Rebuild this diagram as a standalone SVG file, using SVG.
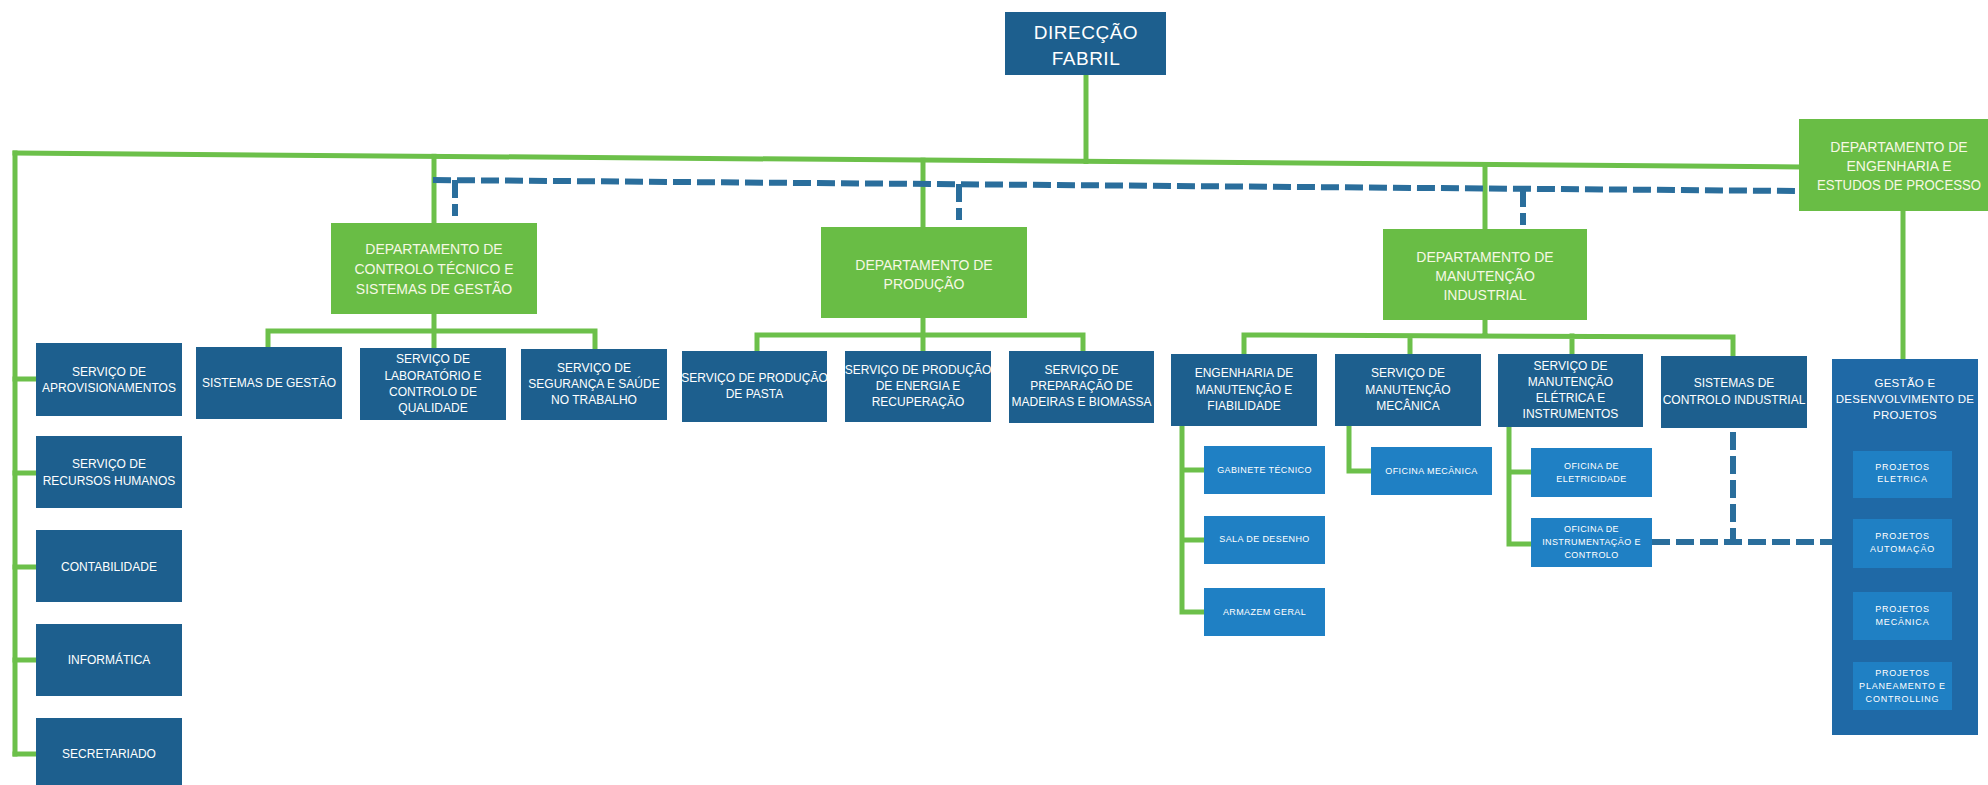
<svg xmlns="http://www.w3.org/2000/svg" width="1988" height="785" viewBox="0 0 1988 785">
<style>
.bg{fill:#ffffff}
.dk{fill:#1d5f8e}
.gr{fill:#69bd45}
.lt{fill:#1f80c4}
.big{fill:#1f69a6}
.ln{stroke:#6cc04a;stroke-width:5;fill:none;stroke-linecap:square;stroke-linejoin:miter}
.ds{stroke:#2a6e9c;stroke-width:6;fill:none;stroke-dasharray:18 6}
text{font-family:"Liberation Sans",Arial,sans-serif;text-anchor:middle;fill:#ffffff}
.t12{font-size:12px}
.t14{font-size:14px;fill:#f6f8e4}
.t19{font-size:19px;letter-spacing:0.5px}
.t9{font-size:9px;letter-spacing:0.4px}
.t9p{font-size:9px;letter-spacing:0.8px}
.t11{font-size:11.5px;letter-spacing:0.3px}
</style>
<rect class="bg" x="0" y="0" width="1988" height="785"/>

<g id="connectors">
  <g id="green-lines">
    <path class="ln" d="M1086,75 L1086,161.5"/>
    <path class="ln" d="M15,153 L1799,167"/>
    <path class="ln" d="M15,153 L15,754"/>
    <path class="ln" d="M15,379 L36,379 M15,473 L36,473 M15,567 L36,567 M15,660 L36,660 M15,754 L36,754"/>
    <path class="ln" d="M434,156.3 L434,223"/>
    <path class="ln" d="M923,160.2 L923,227"/>
    <path class="ln" d="M1485,164.7 L1485,229"/>
    <path class="ln" d="M434,313 L434,348 M268,347 L268,331 L595,331 L595,349"/>
    <path class="ln" d="M923,318 L923,351 M757,351 L757,335 L1083,335 L1083,351"/>
    <path class="ln" d="M1485,320 L1485,335 M1244,354 L1244,335 L1733,337 L1733,356 M1410,336 L1410,354 M1572,336 L1572,354"/>
    <path class="ln" d="M1903,211 L1903,359"/>
    <path class="ln" d="M1182,426 L1182,612 M1182,470 L1204,470 M1182,540 L1204,540 M1182,612 L1204,612"/>
    <path class="ln" d="M1349,426 L1349,471 L1371,471"/>
    <path class="ln" d="M1509,427 L1509,544 L1531,544 M1509,472 L1531,472"/>
  </g>
  <g id="dashed-lines">
    <path class="ds" d="M433,180 L1799,191"/>
    <path class="ds" d="M455,180 L455,216"/>
    <path class="ds" d="M959,184 L959,220"/>
    <path class="ds" d="M1523,189 L1523,225"/>
    <path class="ds" d="M1733,432 L1733,542"/>
    <path class="ds" d="M1652,542 L1832,542"/>
  </g>
</g>

<g id="direccao-fabril">
  <rect class="dk" x="1005" y="12" width="161" height="63"/>
  <text class="t19" x="1086" y="38.8">DIRECÇÃO</text>
  <text class="t19" x="1086" y="64.8">FABRIL</text>
</g>

<g id="dep-controlo">
  <rect class="gr" x="331" y="223" width="206" height="91"/>
  <text class="t14" x="434" y="254">DEPARTAMENTO DE</text>
  <text class="t14" x="434" y="274">CONTROLO TÉCNICO E</text>
  <text class="t14" x="434" y="294">SISTEMAS DE GESTÃO</text>
</g>
<g id="dep-producao">
  <rect class="gr" x="821" y="227" width="206" height="91"/>
  <text class="t14" x="924" y="270">DEPARTAMENTO DE</text>
  <text class="t14" x="924" y="289">PRODUÇÃO</text>
</g>
<g id="dep-manutencao">
  <rect class="gr" x="1383" y="229" width="204" height="91"/>
  <text class="t14" x="1485" y="262">DEPARTAMENTO DE</text>
  <text class="t14" x="1485" y="281">MANUTENÇÃO</text>
  <text class="t14" x="1485" y="300">INDUSTRIAL</text>
</g>
<g id="dep-engenharia">
  <rect class="gr" x="1799" y="119" width="205" height="92"/>
  <text class="t14" x="1899" y="152">DEPARTAMENTO DE</text>
  <text class="t14" x="1899" y="171">ENGENHARIA E</text>
  <text class="t14" x="1899" y="190" textLength="164" lengthAdjust="spacingAndGlyphs">ESTUDOS DE PROCESSO</text>
</g>

<g id="aprovisionamentos">
  <rect class="dk" x="36" y="343" width="146" height="73"/>
  <text class="t12" x="109" y="376.3">SERVIÇO DE</text>
  <text class="t12" x="109" y="392.3">APROVISIONAMENTOS</text>
</g>
<g id="recursos-humanos">
  <rect class="dk" x="36" y="436" width="146" height="72"/>
  <text class="t12" x="109" y="468.3">SERVIÇO DE</text>
  <text class="t12" x="109" y="485.3">RECURSOS HUMANOS</text>
</g>
<g id="contabilidade">
  <rect class="dk" x="36" y="530" width="146" height="72"/>
  <text class="t12" x="109" y="571.3">CONTABILIDADE</text>
</g>
<g id="informatica">
  <rect class="dk" x="36" y="624" width="146" height="72"/>
  <text class="t12" x="109" y="664.3">INFORMÁTICA</text>
</g>
<g id="secretariado">
  <rect class="dk" x="36" y="718" width="146" height="72"/>
  <text class="t12" x="109" y="758.3">SECRETARIADO</text>
</g>

<g id="sistemas-gestao">
  <rect class="dk" x="196" y="347" width="146" height="72"/>
  <text class="t12" x="269" y="387.3">SISTEMAS DE GESTÃO</text>
</g>
<g id="laboratorio">
  <rect class="dk" x="360" y="348" width="146" height="72"/>
  <text class="t12" x="433" y="363.3">SERVIÇO DE</text>
  <text class="t12" x="433" y="380.3">LABORATÓRIO E</text>
  <text class="t12" x="433" y="396.3">CONTROLO DE</text>
  <text class="t12" x="433" y="412.3">QUALIDADE</text>
</g>
<g id="seguranca">
  <rect class="dk" x="521" y="349" width="146" height="71"/>
  <text class="t12" x="594" y="372.3">SERVIÇO DE</text>
  <text class="t12" x="594" y="388.3">SEGURANÇA E SAÚDE</text>
  <text class="t12" x="594" y="404.3">NO TRABALHO</text>
</g>
<g id="producao-pasta">
  <rect class="dk" x="682" y="351" width="145" height="71"/>
  <text class="t12" x="754.5" y="382.3">SERVIÇO DE PRODUÇÃO</text>
  <text class="t12" x="754.5" y="398.3">DE PASTA</text>
</g>
<g id="producao-energia">
  <rect class="dk" x="845" y="351" width="146" height="71"/>
  <text class="t12" x="918" y="374.3">SERVIÇO DE PRODUÇÃO</text>
  <text class="t12" x="918" y="390.3">DE ENERGIA E</text>
  <text class="t12" x="918" y="406.3">RECUPERAÇÃO</text>
</g>
<g id="madeiras">
  <rect class="dk" x="1009" y="351" width="145" height="72"/>
  <text class="t12" x="1081.5" y="374.3">SERVIÇO DE</text>
  <text class="t12" x="1081.5" y="390.3">PREPARAÇÃO DE</text>
  <text class="t12" x="1081.5" y="406.3">MADEIRAS E BIOMASSA</text>
</g>
<g id="eng-manutencao">
  <rect class="dk" x="1171" y="354" width="146" height="72"/>
  <text class="t12" x="1244" y="377.3">ENGENHARIA DE</text>
  <text class="t12" x="1244" y="394.3">MANUTENÇÃO E</text>
  <text class="t12" x="1244" y="410.3">FIABILIDADE</text>
</g>
<g id="manut-mecanica">
  <rect class="dk" x="1335" y="354" width="146" height="72"/>
  <text class="t12" x="1408" y="377.3">SERVIÇO DE</text>
  <text class="t12" x="1408" y="394.3">MANUTENÇÃO</text>
  <text class="t12" x="1408" y="410.3">MECÂNICA</text>
</g>
<g id="manut-eletrica">
  <rect class="dk" x="1498" y="354" width="145" height="73"/>
  <text class="t12" x="1570.5" y="370.3">SERVIÇO DE</text>
  <text class="t12" x="1570.5" y="386.3">MANUTENÇÃO</text>
  <text class="t12" x="1570.5" y="402.3">ELÉTRICA E</text>
  <text class="t12" x="1570.5" y="418.3">INSTRUMENTOS</text>
</g>
<g id="controlo-industrial">
  <rect class="dk" x="1661" y="356" width="146" height="72"/>
  <text class="t12" x="1734" y="387.3">SISTEMAS DE</text>
  <text class="t12" x="1734" y="404.3">CONTROLO INDUSTRIAL</text>
</g>
<g id="gestao-projetos">
  <rect class="big" x="1832" y="359" width="146" height="376"/>
  <text class="t11" x="1905" y="387.1">GESTÃO E</text>
  <text class="t11" x="1905" y="403.1">DESENVOLVIMENTO DE</text>
  <text class="t11" x="1905" y="419.1">PROJETOS</text>
</g>

<g id="gabinete-tecnico">
  <rect class="lt" x="1204" y="446" width="121" height="48"/>
  <text class="t9" x="1264.5" y="473.2">GABINETE TÉCNICO</text>
</g>
<g id="sala-desenho">
  <rect class="lt" x="1204" y="516" width="121" height="48"/>
  <text class="t9" x="1264.5" y="542.2">SALA DE DESENHO</text>
</g>
<g id="armazem-geral">
  <rect class="lt" x="1204" y="588" width="121" height="48"/>
  <text class="t9" x="1264.5" y="615.2">ARMAZEM GERAL</text>
</g>
<g id="oficina-mecanica">
  <rect class="lt" x="1371" y="447" width="121" height="48"/>
  <text class="t9" x="1431.5" y="474.2">OFICINA MECÂNICA</text>
</g>
<g id="oficina-eletricidade">
  <rect class="lt" x="1531" y="448" width="121" height="49"/>
  <text class="t9" x="1591.5" y="469.2">OFICINA DE</text>
  <text class="t9" x="1591.5" y="482.2">ELETRICIDADE</text>
</g>
<g id="oficina-instrumentacao">
  <rect class="lt" x="1531" y="518" width="121" height="49"/>
  <text class="t9" x="1591.5" y="532.2">OFICINA DE</text>
  <text class="t9" x="1591.5" y="545.2">INSTRUMENTAÇÃO E</text>
  <text class="t9" x="1591.5" y="558.2">CONTROLO</text>
</g>

<g id="projetos-eletrica">
  <rect class="lt" x="1853" y="451" width="99" height="47"/>
  <text class="t9p" x="1902.5" y="470.1">PROJETOS</text>
  <text class="t9p" x="1902.5" y="482.1">ELETRICA</text>
</g>
<g id="projetos-automacao">
  <rect class="lt" x="1853" y="519" width="99" height="49"/>
  <text class="t9p" x="1902.5" y="539.1">PROJETOS</text>
  <text class="t9p" x="1902.5" y="552.1">AUTOMAÇÃO</text>
</g>
<g id="projetos-mecanica">
  <rect class="lt" x="1853" y="592" width="99" height="48"/>
  <text class="t9p" x="1902.5" y="612.1">PROJETOS</text>
  <text class="t9p" x="1902.5" y="625.1">MECÂNICA</text>
</g>
<g id="projetos-planeamento">
  <rect class="lt" x="1853" y="662" width="99" height="48"/>
  <text class="t9p" x="1902.5" y="676.1">PROJETOS</text>
  <text class="t9p" x="1902.5" y="689.1">PLANEAMENTO E</text>
  <text class="t9p" x="1902.5" y="702.1">CONTROLLING</text>
</g>
</svg>
